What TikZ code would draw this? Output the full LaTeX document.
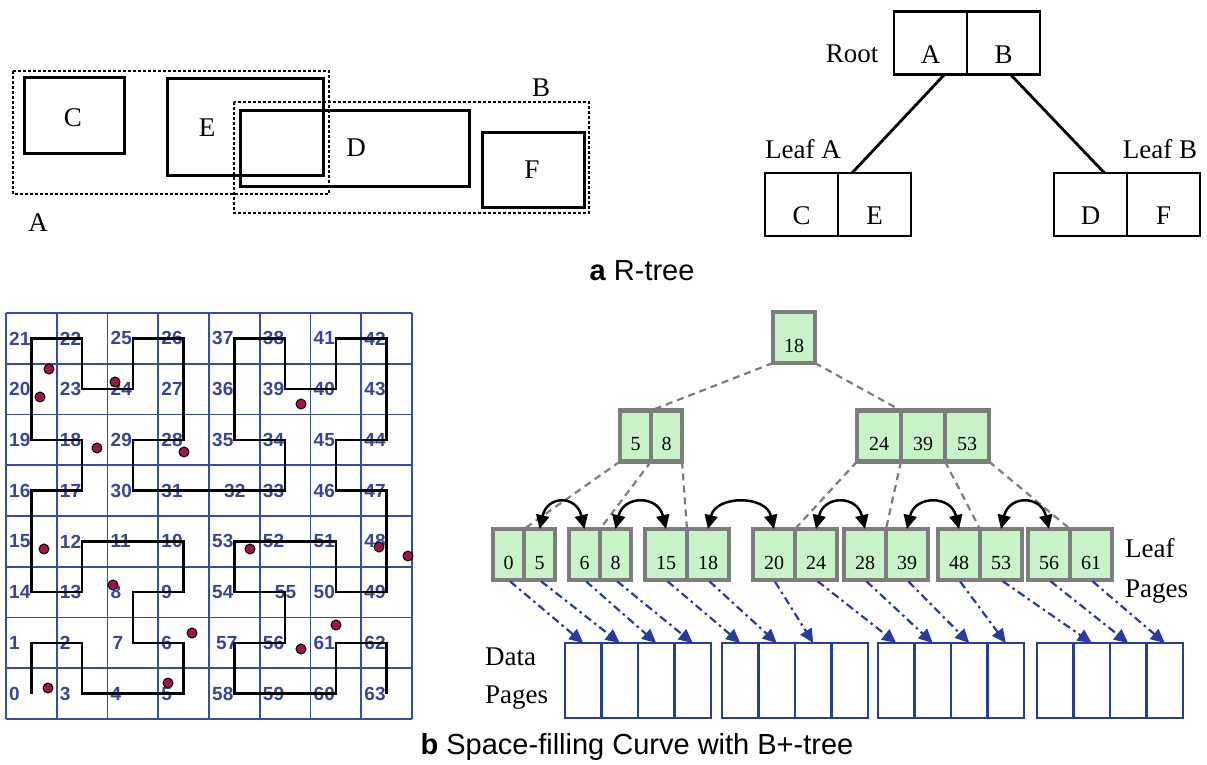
\documentclass[tikz,border=0pt]{standalone}
\usepackage{fontspec}
\setmainfont{Liberation Serif}
\setsansfont{Liberation Sans}
\usepackage{tikz}
\usetikzlibrary{arrows.meta,positioning,calc}
\definecolor{keygreen}{RGB}{200,242,200}
\definecolor{keygray}{RGB}{125,125,125}
\definecolor{pageblue}{RGB}{40,60,160}
\definecolor{gridblue}{RGB}{55,75,170}
\definecolor{numblue}{RGB}{55,70,150}
\definecolor{hitred}{RGB}{160,20,75}
\newcommand{\labfont}{\fontsize{27}{30}\selectfont}
\newcommand{\keyfont}{\fontsize{20}{22}\selectfont}
\newcommand{\cellfont}{\sffamily\bfseries\fontsize{19}{20}\selectfont}
\newcommand{\capfont}{\sffamily\fontsize{29}{32}\selectfont}
\tikzset{
  obj/.style={draw, line width=3pt},
  mbr/.style={draw, line width=2.8pt, dash pattern=on 2.8pt off 2.2pt},
  rlab/.style={anchor=base, font=\labfont, inner sep=0pt},
  rcell/.style={draw, line width=2.4pt, minimum width=73pt, minimum height=63pt,
                inner sep=0pt, outer sep=0pt, text height=40pt, text depth=0pt, font=\labfont},
  rlink/.style={line width=2.8pt},
  bkey/.style={draw=keygray, fill=keygreen, line width=4.2pt, minimum height=51pt,
               minimum width=42pt, inner sep=0pt, outer sep=0pt,
               text height=29pt, text depth=0pt, font=\keyfont},
  bkey1/.style={bkey, minimum width=31pt},
  blink/.style={draw=keygray, line width=2.2pt, dash pattern=on 7pt off 5pt},
  sibling/.style={<->, >={Triangle[length=14pt,width=13pt]}, line width=2.5pt},
  dpage/.style={draw=pageblue, line width=2.4pt, minimum width=36.5pt, minimum height=75pt,
                inner sep=0pt, outer sep=0pt},
  fetch/.style={draw=pageblue, line width=2.2pt, dash pattern=on 8pt off 4pt on 2.5pt off 4pt,
                -{Triangle[length=14pt,width=13pt]}, shorten <=2pt},
  cellno/.style={anchor=west, text=numblue, font=\cellfont, inner sep=0pt},
  hit/.style={fill=hitred, draw=black, line width=1pt},
  gridline/.style={draw=gridblue, line width=1.8pt},
  curve/.style={line width=2.6pt}
}
\begin{document}
\begin{tikzpicture}[x=1pt, y=-1pt, node distance=0pt]
\useasboundingbox (0,0) rectangle (1207,764);

% (a) rectangles and their bounding boxes
\draw[mbr] (13,71) rectangle (329,194);
\draw[mbr] (234,102) rectangle (589,213);
\draw[obj] (24,77) rectangle (124,153);
\draw[obj] (167,78) rectangle (323,175);
\draw[obj] (240,110) rectangle (469,186);
\draw[obj] (482,132) rectangle (584,207);
\node[rlab] (objc) at (73,126) {C};
\node[rlab] (obje) at (207,136) {E};
\node[rlab] (objd) at (356,156) {D};
\node[rlab] (objf) at (532,178) {F};
\node[rlab] (mbra) at (38,231) {A};
\node[rlab] (mbrb) at (541,96) {B};

% (a) the R-tree
\node[rcell] (ra) at (930.5,43) {A};
\node[rcell, right=of ra] (rb) {B};
\node[rcell] (lc) at (801.5,204.5) {C};
\node[rcell, right=of lc] (le) {E};
\node[rcell] (ld) at (1090.5,204.5) {D};
\node[rcell, right=of ld] (lf) {F};
\node[rlab] (rootlab) at (852,62) {Root};
\node[rlab] (leafalab) at (803,158) {Leaf A};
\node[rlab] (leafblab) at (1160,158) {Leaf B};
\draw[rlink] ([xshift=14pt]ra.south) -- ([xshift=14pt]le.north west);
\draw[rlink] ([xshift=7pt]rb.south) -- ([xshift=14pt]ld.north);

\node[anchor=base, font=\capfont] (capa) at (642,280) {\textbf{a} R-tree};

% (b) grid with Hilbert order
\foreach \i in {0,...,8} {
  \draw[gridline] (6+50.75*\i,313) -- (6+50.75*\i,719);
  \draw[gridline] (6,313+50.75*\i) -- (412,313+50.75*\i);
}
\foreach \c/\r [count=\i from 0] in {0/7,0/6,1/6,1/7,2/7,3/7,3/6,2/6,2/5,3/5,3/4,2/4,1/4,1/5,0/5,0/4,
    0/3,1/3,1/2,0/2,0/1,0/0,1/0,1/1,2/1,2/0,3/0,3/1,3/2,2/2,2/3,3/3,
    4/3,5/3,5/2,4/2,4/1,4/0,5/0,5/1,6/1,6/0,7/0,7/1,7/2,6/2,6/3,7/3,
    7/4,7/5,6/5,6/4,5/4,4/4,4/5,5/5,5/6,4/6,4/7,5/7,6/7,6/6,7/6,7/7} {
  \pgfmathsetmacro\dx{(\i==32||\i==55)?12:((\i==57)?4:((\i==7)?2:0))}
  \coordinate (h\i) at (6+50.75*\c+25.4, 313+50.75*\r+25.4);
  \node[cellno] (n\i) at (6+50.75*\c+3+\dx, 313+50.75*\r+25.4) {\i};
}
\draw[curve] (h0) \foreach \i in {1,...,63} { -- (h\i) };
\foreach \p in {(49,369),(40,397),(115,382),(97,448),(184,452),(301,404),(44,549),(113,585),
    (192,633),(168,683),(48,688),(250,549),(379,547),(408,556),(336,625),(301,649)}
  \draw[hit] \p circle (5);

% (b) B+-tree
\node[bkey] (r18) at (794,337.5) {18};
\node[bkey1] (k5) at (635.5,436) {5};
\node[bkey1, right=of k5] (k8) {8};
\node[bkey, minimum width=44pt] (k24) at (879,436) {24};
\node[bkey, minimum width=44pt, right=of k24] (k39) {39};
\node[bkey, minimum width=44pt, right=of k39] (k53) {53};

\node[bkey1] (l0) at (508.5,554.5) {0};
\node[bkey1, right=of l0] (l5) {5};
\node[bkey1] (l6) at (584.5,554.5) {6};
\node[bkey1, right=of l6] (l8) {8};
\node[bkey] (l15) at (666,554.5) {15};
\node[bkey, right=of l15] (l18) {18};
\node[bkey] (l20) at (774,554.5) {20};
\node[bkey, right=of l20] (l24) {24};
\node[bkey] (l28) at (865,554.5) {28};
\node[bkey, right=of l28] (l39) {39};
\node[bkey] (l48) at (959,554.5) {48};
\node[bkey, right=of l48] (l53) {53};
\node[bkey] (l56) at (1049,554.5) {56};
\node[bkey, right=of l56] (l61) {61};
\node[rlab, anchor=base west] (leafw) at (1125,557) {Leaf};
\node[rlab, anchor=base west] (leafpw) at (1125,597) {Pages};

\foreach \a/\b in {r18.south west/k5.north east, r18.south east/k24.north east,
    k5.south west/l0.north east, k5.south east/l6.north east, k8.south east/l15.north east,
    k24.south west/l20.north east, k24.south east/l28.north east,
    k39.south east/l48.north east, k53.south east/l56.north east}
  \draw[blink] (\a) -- (\b);
\foreach \a/\b in {l5/l6, l8/l15, l18/l20, l24/l28, l39/l48, l53/l56}
  \draw[sibling] (\a.north) .. controls +(8,-34) and +(-8,-34) .. (\b.north);

% data pages
\foreach \g/\x in {0/565,1/722,2/878,3/1037}
  \foreach \k in {1,...,4} {
    \pgfmathtruncatemacro\n{4*\g+\k}
    \node[dpage] (dp\n) at (\x+36.5*\k-18.25,680.5) {};
  }
\node[rlab, anchor=base west] (dataw) at (485,665) {Data};
\node[rlab, anchor=base west] (datapw) at (485,703) {Pages};
\foreach \a/\b in {l0/1, l5/2, l6/3, l8/4, l15/5, l18/6, l20/7, l24/9,
    l28/10, l39/11, l48/12, l53/14, l56/15, l61/16}
  \draw[fetch] (\a.south) -- (dp\b.north);

\node[anchor=base, font=\capfont] (capb) at (637,754) {\textbf{b} Space-filling Curve with B+-tree};
\end{tikzpicture}
\end{document}
